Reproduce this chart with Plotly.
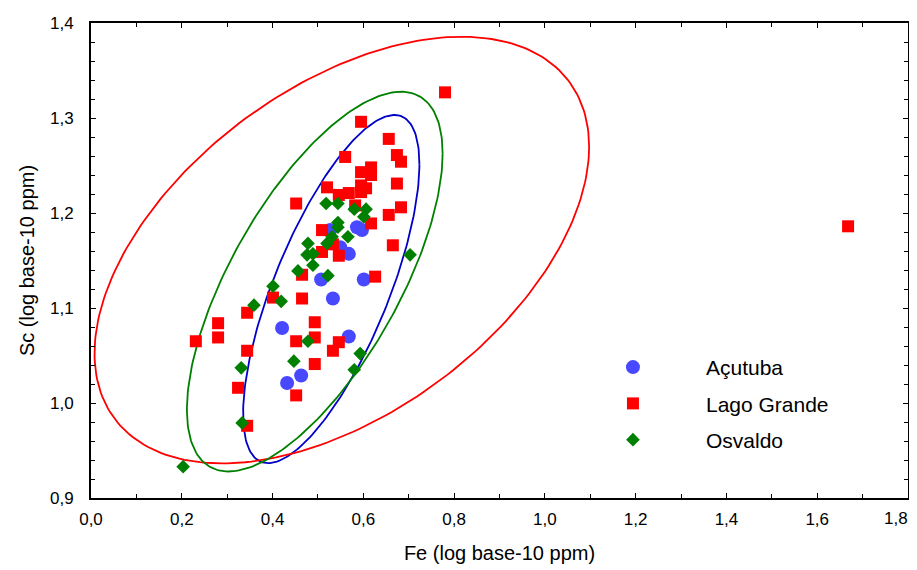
import numpy as np
import plotly.graph_objects as go

# ---- data ----
acutuba_fe = [0.527, 0.586, 0.597, 0.549, 0.568, 0.507, 0.601, 0.533, 0.421, 0.568, 0.463, 0.432]
acutuba_sc = [1.182, 1.185, 1.182, 1.164, 1.157, 1.130, 1.130, 1.110, 1.079, 1.070, 1.029, 1.021]

lago_fe = [0.780, 1.668, 0.595, 0.656, 0.674, 0.683, 0.560, 0.595, 0.617, 0.617, 0.674,
           0.520, 0.568, 0.546, 0.595, 0.606, 0.595, 0.452, 0.582, 0.683, 0.656, 0.617,
           0.665, 0.509, 0.533, 0.509, 0.546, 0.626, 0.465, 0.401, 0.465, 0.344, 0.280,
           0.280, 0.231, 0.493, 0.493, 0.452, 0.546, 0.533, 0.344, 0.493, 0.324, 0.452, 0.344]
lago_sc = [1.327, 1.186, 1.296, 1.278, 1.261, 1.254, 1.259, 1.243, 1.248, 1.240, 1.231,
           1.227, 1.221, 1.219, 1.229, 1.226, 1.222, 1.210, 1.208, 1.206, 1.198, 1.189,
           1.166, 1.182, 1.167, 1.159, 1.155, 1.133, 1.135, 1.111, 1.110, 1.095, 1.084,
           1.069, 1.065, 1.085, 1.069, 1.065, 1.064, 1.055, 1.055, 1.041, 1.016, 1.008, 0.976]

osv_fe = [0.518, 0.544, 0.580, 0.606, 0.601, 0.544, 0.544, 0.566, 0.531, 0.520, 0.478,
          0.489, 0.476, 0.489, 0.456, 0.522, 0.703, 0.401, 0.419, 0.359, 0.478, 0.447,
          0.331, 0.593, 0.580, 0.333, 0.203]
osv_sc = [1.210, 1.210, 1.204, 1.204, 1.196, 1.190, 1.185, 1.175, 1.175, 1.168, 1.168,
          1.157, 1.156, 1.145, 1.139, 1.134, 1.156, 1.123, 1.107, 1.103, 1.065, 1.044,
          1.037, 1.052, 1.035, 0.979, 0.933]

series_names = ["Açutuba", "Lago Grande", "Osvaldo"]
x_ticks = [0.0, 0.2, 0.4, 0.6, 0.8, 1.0, 1.2, 1.4, 1.6, 1.8]
y_ticks = [0.9, 1.0, 1.1, 1.2, 1.3, 1.4]


def prediction_ellipse(x, y, p=0.95, npts=240):
    x = np.asarray(x, float)
    y = np.asarray(y, float)
    n = len(x)
    m = n - 2
    fq = (m / 2.0) * ((1 - p) ** (-2.0 / m) - 1.0)  # F(2, m) quantile
    k = np.sqrt(2.0 * (n + 1) * (n - 1) / (n * (n - 2)) * fq)
    cov = np.cov(np.vstack([x, y]))
    L = np.linalg.cholesky(cov)
    t = np.linspace(0, 2 * np.pi, npts)
    circ = np.vstack([np.cos(t), np.sin(t)])
    pts = L @ circ * k
    return x.mean() + pts[0], y.mean() + pts[1]


def fmt(v):
    return f"{v:.1f}".replace(".", ",")


FONT = "Liberation Sans Narrow, Arial Narrow, Liberation Sans, Arial, sans-serif"

fig = go.Figure()

ell_colors = ["#0000c8", "#ff0000", "#008000"]
datasets = [(acutuba_fe, acutuba_sc), (lago_fe, lago_sc), (osv_fe, osv_sc)]
for (xs, ys), c in zip(datasets, ell_colors):
    ex, ey = prediction_ellipse(xs, ys)
    fig.add_trace(go.Scatter(x=ex, y=ey, mode="lines", line=dict(color=c, width=1.8),
                             showlegend=False, hoverinfo="skip"))

marker_styles = [
    dict(symbol="circle", size=14, color="#4848ff"),
    dict(symbol="square", size=12, color="#ff0000"),
    dict(symbol="diamond", size=10.5, color="#008000"),
]
for i, ((xs, ys), ms) in enumerate(zip(datasets, marker_styles)):
    fig.add_trace(go.Scatter(x=xs, y=ys, mode="markers", name=series_names[i],
                             marker=dict(**ms, line=dict(width=0)),
                             legendgroup=series_names[i]))

axis_common = dict(
    showgrid=False, zeroline=False, showline=True, linecolor="black", linewidth=2,
    mirror="ticks", ticks="inside", ticklen=5, tickwidth=1.3, tickcolor="black",
    tickfont=dict(family=FONT, size=17, color="black"),
    title_font=dict(family=FONT, size=20, color="black"),
    automargin=False,
)

# last x label sits at the page edge; it is drawn as an annotation anchored right
x_text = [fmt(v) for v in x_ticks[:-1]] + [""]
fig.update_xaxes(range=[0, 1.8], tickvals=x_ticks, ticktext=x_text,
                 minor=dict(dtick=0.1, ticks="inside", ticklen=4, tickcolor="black", tickwidth=1.2),
                 ticklabelstandoff=5,
                 title_text="Fe (log base-10 ppm)", title_standoff=18, **axis_common)
fig.update_yaxes(range=[0.9, 1.4], tickvals=y_ticks, ticktext=[fmt(v) for v in y_ticks],
                 minor=dict(dtick=0.02, ticks="inside", ticklen=4, tickcolor="black", tickwidth=1.2),
                 ticklabelstandoff=12,
                 title_text="Sc (log base-10 ppm)", title_standoff=10, **axis_common)

fig.add_annotation(x=x_ticks[-1], xref="x", y=0, yref="paper", text=fmt(x_ticks[-1]),
                   showarrow=False, xanchor="right", yanchor="top", xshift=1, yshift=-10,
                   borderpad=0, font=dict(family=FONT, size=17, color="black"))

# the page body adds an 8px offset, so the figure is 8px smaller on each side
fig.update_layout(
    width=909, height=562,
    margin=dict(l=83, r=9, t=15, b=72),
    plot_bgcolor="white", paper_bgcolor="white",
    separators=",.",
    font=dict(family=FONT, color="black"),
    legend=dict(x=0.574, y=0.318, xanchor="left", yanchor="top",
                bgcolor="rgba(0,0,0,0)", font=dict(family=FONT, size=21),
                traceorder="grouped", tracegroupgap=6, itemwidth=136),
)

fig.write_html("out.html")
